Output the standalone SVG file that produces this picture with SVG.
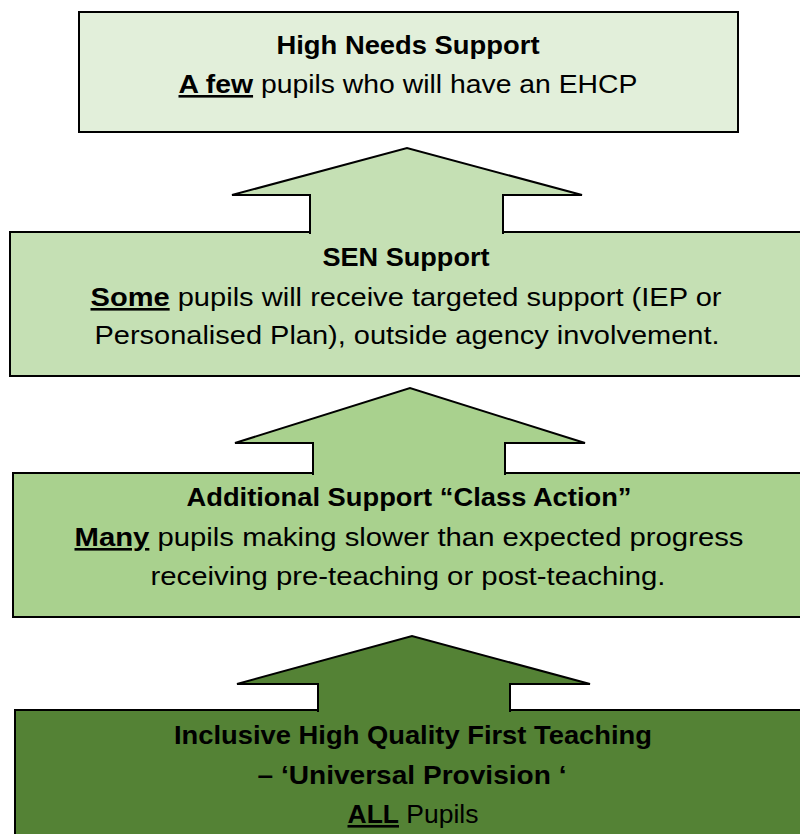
<svg xmlns="http://www.w3.org/2000/svg" width="800" height="834" viewBox="0 0 800 834">
<style>
.box{stroke:#000;stroke-width:2}
.arr{stroke:#000;stroke-width:2;stroke-linejoin:miter}
text{font-family:"Liberation Sans",Arial,sans-serif;font-size:26px;fill:#000;text-anchor:middle}
.b{font-weight:bold}
.u{font-weight:bold;text-decoration:underline}
</style>
<rect width="800" height="834" fill="#fff"/>
<g id="high-needs">
<rect class="box" x="79" y="12" width="659" height="120" fill="#E2EFDA"/>
<text class="b" x="408" y="54" textLength="263" lengthAdjust="spacingAndGlyphs">High Needs Support</text>
<text x="408" y="93" textLength="459" lengthAdjust="spacingAndGlyphs"><tspan class="u">A few</tspan> pupils who will have an EHCP</text>
</g>
<g id="sen-support">
<rect class="box" x="10" y="232" width="800" height="144" fill="#C5E0B4"/>
<text class="b" x="406" y="266" textLength="167" lengthAdjust="spacingAndGlyphs">SEN Support</text>
<text x="406" y="306" textLength="631" lengthAdjust="spacingAndGlyphs"><tspan class="u">Some</tspan> pupils will receive targeted support (IEP or</text>
<text x="407" y="344" textLength="625" lengthAdjust="spacingAndGlyphs">Personalised Plan), outside agency involvement.</text>
</g>
<g id="additional-support">
<rect class="box" x="13" y="473" width="800" height="144" fill="#A9D18E"/>
<text class="b" x="409" y="506" textLength="445" lengthAdjust="spacingAndGlyphs">Additional Support “Class Action”</text>
<text x="409" y="546" textLength="669" lengthAdjust="spacingAndGlyphs"><tspan class="u">Many</tspan> pupils making slower than expected progress</text>
<text x="408" y="585" textLength="515" lengthAdjust="spacingAndGlyphs">receiving pre-teaching or post-teaching.</text>
</g>
<g id="universal">
<rect class="box" x="15" y="710" width="800" height="140" fill="#548235"/>
<text class="b" x="413" y="744" textLength="478" lengthAdjust="spacingAndGlyphs">Inclusive High Quality First Teaching</text>
<text class="b" x="412" y="784" textLength="309" lengthAdjust="spacingAndGlyphs">– ‘Universal Provision ‘</text>
<text x="413" y="823" textLength="131" lengthAdjust="spacingAndGlyphs"><tspan class="u">ALL</tspan> Pupils</text>
</g>
<g id="connectors">
<path class="arr" fill="#C5E0B4" d="M310 234 L310 195 L232 195 L407 148 L582 195 L503 195 L503 234"/>
<path class="arr" fill="#A9D18E" d="M313 475 L313 443 L235 443 L410 388 L585 443 L505 443 L505 475"/>
<path class="arr" fill="#548235" d="M318 712 L318 684 L237 684 L412 636 L590 684 L510 684 L510 712"/>
</g>
</svg>
